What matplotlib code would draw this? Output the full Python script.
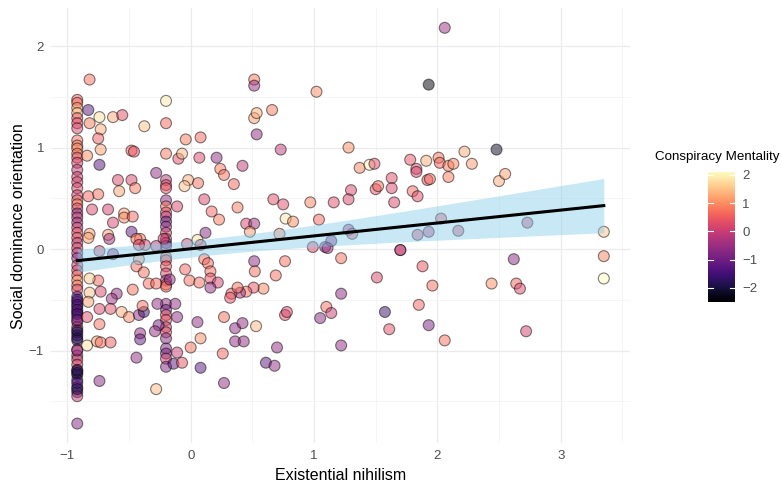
import matplotlib
matplotlib.use("Agg")
import matplotlib.pyplot as plt
import numpy as np

plt.rcParams["font.family"] = ["Liberation Sans", "DejaVu Sans"]

# column of respondents at the lowest nihilism score
col1_x = -0.92
col1_sdo = [1.47, 1.44, 1.39, 1.34, 1.29, 1.24, 1.19, 1.07, 1.02, 0.99, 0.94, 0.90,
            0.85, 0.78, 0.71, 0.66, 0.60, 0.53, 0.48, 0.44, 0.40, 0.35, 0.31, 0.26,
            0.21, 0.16, 0.11, 0.06, 0.01, -0.04, -0.09, -0.16, -0.21, -0.26, -0.31,
            -0.36, -0.40, -0.47, -0.52, -0.57, -0.62, -0.67, -0.72, -0.77, -0.82,
            -0.85, -0.90, -0.99, -1.05, -1.09, -1.14, -1.19, -1.24, -1.29, -1.36,
            -1.41, -1.45, -1.72,
            -0.50, -0.55, -0.60, -0.64, -0.70, -0.80, -0.88, -1.00, -1.20, -1.32,
            -1.38, -1.22]
col1_cm = [0.5, 0.7, 1.2, 1.5, 0.4, 0.3, 0.2, 0.7, 0.8, 1.0, 0.7, 0.4,
           0.2, -0.1, 0.1, 0.1, 0.2, 0.1, 0.7, 0.9, 0.2, -0.6, 0.0, -0.5,
           0.1, 0.3, 0.4, -0.2, 0.3, -0.3, -0.7, 0.1, 0.2, 0.6, 1.1,
           0.7, 0.2, -1.3, -1.2, -0.8, -1.4, -0.7, -0.3, 0.3, -1.7,
           -1.6, -1.5, -0.2, -0.3, 0.1, 0.3, -1.0, -1.6, -1.1, -0.9,
           -1.5, -0.1, -0.8,
           -1.4, -1.5, -1.2, -1.6, -0.9, -1.8, -1.9, -0.5, -1.7, -1.4,
           -1.8, -2.0]

# second dense column
col2_x = -0.2
col2_sdo = [1.46, 1.24, 0.94, 0.68, 0.63, 0.60, 0.48, 0.42, 0.36, 0.32, 0.27, 0.22,
            0.16, 0.10, 0.06, 0.03, -0.08, -0.11, -0.17, -0.24, -0.31, -0.35, -0.37,
            -0.54, -0.60, -0.65, -0.70, -0.77, -0.82, -0.88, -0.98, -1.03, -1.08, -1.16]
col2_cm = [1.9, 0.6, 0.8, -0.2, 0.3, 0.4, -0.6, 0.7, 0.3, -0.2, -1.0, -0.6,
           0.1, 0.1, -0.6, -0.5, 0.6, 0.4, 0.4, 0.2, -0.3, 0.7, 0.6,
           -0.6, -1.0, 0.4, 0.3, 0.1, 0.3, -0.7, -0.8, -0.9, 0.1, -0.8]

# everyone else
other_x = [-0.82, 0.515, 0.515, 1.02, -0.83, -0.74, -0.63, -0.555, -0.376, -0.82,
           -0.73, 0.515, 0.535, 0.66, 0.535, -0.75, -0.73, -0.84, -0.48, -0.46,
           -0.04, 0.08, -0.10, -0.07, 0.07, 0.21, 0.42, 0.73, -0.74, -0.28,
           0.24, 0.27, 0.35, -0.02, -0.05, 0.06, -0.59, -0.48, -0.45, -0.58,
           -0.83, -0.75, -0.80, -0.67, -0.63, -0.54, -0.54, -0.47, -0.48, -0.41,
           -0.67, -0.66, -0.82, -0.83, -0.11, 0.11, 0.17, 0.23, 0.12, 0.38,
           0.45, 0.515, 0.48, 0.67, 0.75, 0.77, 0.83, 0.97, 1.04, 0.72,
           0.055, -0.03, -0.22, -0.37, -0.74, -0.63, -0.44, -0.42, -0.28, -0.42,
           0.08, 0.11, 0.14, 0.16, 0.16, 0.22, 0.16, -0.045, -0.01, 0.07,
           -0.44, -0.38, -0.34, -0.28, -0.17, -0.47, -0.60, -0.64, -0.73, -0.75,
           -0.82, -0.82, -0.83, -0.84, -0.74, -0.74, -0.65, -0.56, -0.50, -0.42,
           -0.38, -0.39, -0.27, -0.125, -0.11, -0.26, -0.29, -0.41, -0.41, -0.84,
           -0.76, -0.73, -0.65, -0.74, -0.44, -0.28, -0.14, -0.07, -0.11, 0.0,
           0.08, 0.08, 0.055, 0.27, 0.26, 0.27, 0.36, 0.42, 0.36, 0.43,
           0.53, 0.61, 0.68, 0.70, 0.765, 0.78, 0.765, 0.69, 0.515, 0.52,
           0.59, 0.51, 0.45, 0.40, 0.33, 0.32, 0.38, 0.99, 1.09, 1.10,
           1.05, 2.06, 1.93, 1.28, 2.48, 1.37, 1.45, 1.49, 1.78, 1.83,
           1.83, 1.91, 2.01, 2.02, 2.09, 2.13, 2.22, 2.28, 1.92, 1.94,
           2.09, 2.50, 2.55, 1.30, 1.28, 1.50, 1.52, 1.63, 1.63, 1.65,
           1.80, 1.84, 1.16, 1.28, 1.31, 1.14, 1.11, 2.03, 1.84, 1.93,
           2.17, 2.73, 3.35, 3.35, 3.35, 1.70, 1.70, 1.22, 2.62, 1.88,
           1.51, 1.96, 2.44, 2.64, 2.67, 1.22, 1.14, 1.575, 1.85, 1.61,
           1.93, 2.06, 2.72, 1.22]
other_sdo = [1.67, 1.67, 1.61, 1.55, 1.37, 1.30, 1.30, 1.32, 1.21, 1.24,
             1.18, 1.29, 1.34, 1.37, 1.13, 1.09, 0.98, 0.92, 0.97, 0.96,
             1.08, 1.10, 0.89, 0.94, 0.90, 0.90, 0.82, 0.98, 0.83, 0.75,
             0.79, 0.73, 0.64, 0.68, 0.62, 0.65, 0.68, 0.68, 0.60, 0.57,
             0.52, 0.54, 0.39, 0.39, 0.26, 0.35, 0.31, 0.32, 0.17, 0.10,
             0.14, 0.10, 0.15, 0.11, 0.42, 0.49, 0.37, 0.29, 0.16, 0.41,
             0.25, 0.25, 0.17, 0.49, 0.44, 0.30, 0.27, 0.46, 0.29, 0.15,
             0.09, 0.05, 0.10, 0.04, -0.02, -0.05, 0.10, 0.04, 0.03, -0.10,
             0.04, -0.10, -0.14, -0.22, -0.29, -0.33, -0.38, -0.20, -0.31, -0.33,
             -0.17, -0.23, -0.34, -0.34, -0.30, -0.40, -0.44, -0.49, -0.42, -0.31,
             -0.29, -0.43, -0.52, -0.67, -0.74, -0.59, -0.59, -0.62, -0.67, -0.65,
             -0.62, -0.56, -0.54, -0.54, -0.67, -0.75, -0.81, -0.83, -0.89, -0.95,
             -0.91, -0.92, -0.92, -1.30, -1.07, -1.38, -1.13, -1.12, -1.02, -0.97,
             -0.88, -1.17, -0.72, -0.67, -1.03, -1.32, -0.78, -0.73, -0.91, -0.91,
             -0.76, -1.12, -1.15, -0.97, -0.65, -0.62, -0.12, -0.26, -0.12, -0.22,
             -0.39, -0.38, -0.42, -0.43, -0.44, -0.48, -0.38, 0.02, 0.02, -0.57,
             -0.68, 2.18, 1.62, 1.00, 0.98, 0.80, 0.83, 0.84, 0.88, 0.79,
             0.76, 0.87, 0.90, 0.85, 0.82, 0.84, 0.96, 0.84, 0.68, 0.69,
             0.71, 0.67, 0.74, 0.58, 0.49, 0.59, 0.62, 0.70, 0.60, 0.46,
             0.57, 0.52, 0.46, 0.19, 0.15, 0.08, 0.01, 0.30, 0.14, 0.17,
             0.18, 0.26, 0.17, -0.07, -0.29, -0.01, -0.01, -0.09, -0.10, -0.17,
             -0.28, -0.36, -0.34, -0.34, -0.39, -0.44, -0.63, -0.62, -0.55, -0.79,
             -0.75, -0.90, -0.81, -0.95]
other_cm = [0.7, 0.8, -0.5, 1.0, -1.2, 1.8, 1.3, 0.3, 1.5, 0.8,
            1.3, 1.2, 1.3, 0.8, -0.6, 0.5, 1.2, 1.0, 0.6, 0.4,
            0.8, 0.6, 0.3, 1.4, 0.2, -0.6, -0.1, -0.1, -1.3, -0.6,
            0.8, 0.7, 0.6, 1.3, 1.5, 0.7, 0.2, 0.2, 0.8, 1.2,
            0.6, 0.7, 0.2, 0.1, 0.2, 1.2, 0.9, 0.6, -1.1, 0.8,
            1.2, -0.4, 1.1, 1.2, 0.2, 0.2, 0.6, 0.8, -0.7, 0.8,
            0.2, -0.4, 1.1, 0.3, 0.3, 1.9, 1.0, 0.9, 0.6, 0.9,
            1.8, 0.2, 0.1, 0.2, 0.1, -0.7, 0.7, 0.2, -0.2, 1.0,
            0.2, 0.7, 0.6, 0.7, 0.4, 0.1, -0.6, 0.6, 0.7, 0.7,
            0.7, 0.7, 0.7, 0.6, -0.6, 0.7, -0.6, -0.5, 0.2, 0.6,
            1.6, 1.5, 1.2, 0.3, 0.7, 0.2, 0.3, 1.3, 1.0, -0.6,
            -1.6, 0.7, -0.6, -0.6, -0.6, -1.0, -0.6, -0.6, -1.1, 1.8,
            1.1, 0.7, 0.5, -0.7, -0.6, 1.4, -1.2, 0.4, 0.0, 0.7,
            1.0, -1.3, -0.6, 0.7, 0.6, -0.6, -0.6, -0.6, -0.6, -0.6,
            1.4, -1.2, -0.6, -0.6, 0.3, 0.2, 0.7, 0.7, -0.6, 0.7,
            0.9, 0.4, 0.7, -0.4, 0.4, 0.4, 0.7, 0.2, -0.6, 0.7,
            -0.7, -0.5, -2.5, 1.0, -2.2, 0.9, 2.0, 0.3, 0.4, 0.3,
            0.2, 1.3, 0.8, 0.6, 0.8, 0.9, 1.3, 1.1, 0.4, 0.7,
            0.8, 1.3, 1.2, 0.2, 0.2, 0.4, 0.6, 0.3, 0.2, 0.2,
            0.6, 0.3, 0.3, -0.5, 0.2, -0.9, -0.5, 0.3, 0.0, -0.3,
            0.1, -0.1, 1.5, 0.9, 2.1, 0.5, -0.3, 0.7, -0.7, 0.4,
            0.2, 0.7, 1.0, 0.6, 0.2, -0.7, 0.0, -1.6, 0.6, 0.3,
            -0.9, 0.7, 0.1, -0.6]

nihilism = np.array([col1_x] * len(col1_sdo) + [col2_x] * len(col2_sdo) + other_x)
sdo = np.array(col1_sdo + col2_sdo + other_sdo)
cm = np.array(col1_cm + col2_cm + other_cm)

# linear fit with 95% confidence band, like geom_smooth(method = "lm")
n = len(nihilism)
slope, intercept = np.polyfit(nihilism, sdo, 1)
resid = sdo - (intercept + slope * nihilism)
s = np.sqrt(np.sum(resid ** 2) / (n - 2))
xbar = nihilism.mean()
sxx = np.sum((nihilism - xbar) ** 2)
xs = np.linspace(nihilism.min(), nihilism.max(), 80)
fit = intercept + slope * xs
se = s * np.sqrt(1 / n + (xs - xbar) ** 2 / sxx)
t = 1.968

fig = plt.figure(figsize=(7.82, 4.83), dpi=100)
ax = fig.add_axes([0.0651, 0.082, 0.7407, 0.9014])

sc = ax.scatter(nihilism, sdo, c=cm, cmap="magma", vmin=cm.min(), vmax=cm.max(),
                s=62, alpha=0.5, edgecolors="black", linewidths=0.8, zorder=2)
ax.fill_between(xs, fit - t * se, fit + t * se, color="skyblue", alpha=0.45,
                linewidth=0, zorder=3)
ax.plot(xs, fit, color="black", lw=2.2, zorder=4)

ax.margins(0.05)
ax.set_xticks([-1, 0, 1, 2, 3])
ax.set_yticks([-1, 0, 1, 2])
ax.set_xticks([-0.5, 0.5, 1.5, 2.5, 3.5], minor=True)
ax.set_yticks([-1.5, -0.5, 0.5, 1.5], minor=True)
ax.grid(True, which="major", color="#ebebeb", lw=0.9)
ax.grid(True, which="minor", color="#f4f4f4", lw=0.6)
ax.set_axisbelow(True)
for sp in ax.spines.values():
    sp.set_visible(False)
ax.tick_params(which="both", length=0, labelsize=9.5, labelcolor="#4d4d4d", pad=5)
ax.set_xlabel("Existential nihilism", fontsize=11.5, labelpad=4)
ax.set_ylabel("Social dominance orientation", fontsize=11.5, labelpad=2)

cax = fig.add_axes([0.905, 0.375, 0.035, 0.269])
cb = fig.colorbar(sc, cax=cax)
cb.solids.set_alpha(1)
cb.outline.set_visible(False)
cb.set_ticks([-2, -1, 0, 1, 2])
cax.tick_params(length=0, labelsize=9.5, labelcolor="#4d4d4d", pad=5)
for v in [-2, -1, 0, 1, 2]:
    cax.plot([0, 0.2], [v, v], color="white", lw=0.8, transform=cax.get_yaxis_transform())
    cax.plot([0.8, 1], [v, v], color="white", lw=0.8, transform=cax.get_yaxis_transform())
fig.text(0.838, 0.675, "Conspiracy Mentality", fontsize=9.6, ha="left", va="center")

fig.savefig("out.png", dpi=100)
